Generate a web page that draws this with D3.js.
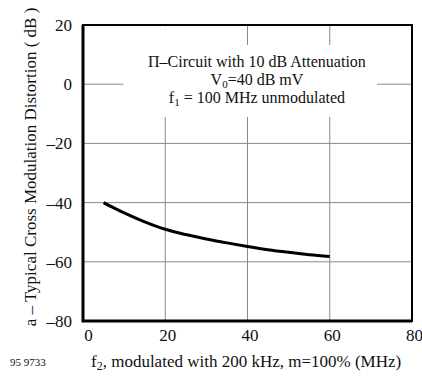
<!DOCTYPE html>
<html>
<head>
<meta charset="utf-8">
<script src="https://cdn.jsdelivr.net/npm/d3@7"></script>
<style>
  body { margin: 0; background: #fff; }
  text { font-family: "Liberation Serif", "DejaVu Serif", serif; fill: #111; }
</style>
</head>
<body>
<div id="chart"></div>
<script>
// data
var freqMHz = [5, 7.5, 10, 15, 20, 25, 30, 35, 40, 45, 50, 55, 60];
var distortionDb = [-40, -41.8, -43.5, -46.5, -49, -50.8, -52.3, -53.6, -54.8, -55.9, -56.8, -57.6, -58.2];
var xTicks = [0, 20, 40, 60, 80];
var yTicks = [20, 0, -20, -40, -60, -80];
var noteLines = ["Π–Circuit with 10 dB Attenuation", "V", "0", "=40 dB mV", "f", "1", " = 100 MHz unmodulated"];

var width = 422, height = 380,
  margin = {top: 25, right: 10, bottom: 59, left: 83},
  innerWidth = width - margin.left - margin.right,
  innerHeight = height - margin.top - margin.bottom;

var svg = d3.select("#chart").append("svg")
  .attr("width", width)
  .attr("height", height);

var g = svg.append("g")
  .attr("transform", "translate(" + margin.left + "," + margin.top + ")");

var x = d3.scaleLinear().domain([0, 80]).range([0, innerWidth]);
var y = d3.scaleLinear().domain([-80, 20]).range([innerHeight, 0]);

// grid
g.selectAll(".hgrid").data(yTicks.slice(1, -1)).enter().append("line")
  .attr("x1", 0).attr("x2", innerWidth)
  .attr("y1", function(d) { return y(d); })
  .attr("y2", function(d) { return y(d); })
  .attr("stroke", "#8a8a8a").attr("stroke-width", 1);

g.selectAll(".vgrid").data(xTicks.slice(1, -1)).enter().append("line")
  .attr("x1", function(d) { return x(d); })
  .attr("x2", function(d) { return x(d); })
  .attr("y1", 0).attr("y2", innerHeight)
  .attr("stroke", "#8a8a8a").attr("stroke-width", 1);

// blank area behind the note
g.append("rect")
  .attr("x", x(9.8)).attr("y", 20)
  .attr("width", x(71.5) - x(9.8)).attr("height", 72)
  .attr("fill", "#fff");
g.append("rect")
  .attr("x", x(17)).attr("y", 1.5)
  .attr("width", x(23) - x(17)).attr("height", 25)
  .attr("fill", "#fff");

var cx = x(42.3);
var note = g.append("g").attr("font-size", 16);
note.append("text")
  .attr("x", cx).attr("y", 42)
  .attr("text-anchor", "middle")
  .text(noteLines[0]);
var l2 = note.append("text").attr("x", cx).attr("y", 60).attr("text-anchor", "middle");
l2.append("tspan").text(noteLines[1]);
l2.append("tspan").attr("font-size", 11).attr("dy", 3).text(noteLines[2]);
l2.append("tspan").attr("dy", -3).text(noteLines[3]);
var l3 = note.append("text").attr("x", cx).attr("y", 78).attr("text-anchor", "middle");
l3.append("tspan").text(noteLines[4]);
l3.append("tspan").attr("font-size", 11).attr("dy", 3).text(noteLines[5]);
l3.append("tspan").attr("dy", -3).text(noteLines[6]);

// curve
var line = d3.line()
  .x(function(d, i) { return x(freqMHz[i]); })
  .y(function(d) { return y(d); })
  .curve(d3.curveMonotoneX);

g.append("path")
  .datum(distortionDb)
  .attr("d", line)
  .attr("fill", "none")
  .attr("stroke", "#000")
  .attr("stroke-width", 3);

// frame
g.append("rect")
  .attr("width", innerWidth).attr("height", innerHeight)
  .attr("fill", "none").attr("stroke", "#000").attr("stroke-width", 2);
g.append("path")
  .attr("d", "M0,0V" + innerHeight + "H" + innerWidth)
  .attr("fill", "none").attr("stroke", "#000").attr("stroke-width", 3);

// axes (labels only)
var yAxis = g.append("g")
  .call(d3.axisLeft(y).tickValues(yTicks).tickSize(0).tickPadding(11)
    .tickFormat(function(d) { return d < 0 ? "–" + Math.abs(d) : d; }));
yAxis.select(".domain").remove();
yAxis.selectAll("text").attr("font-size", 17).attr("fill", "#111");

var xAxis = g.append("g")
  .attr("transform", "translate(0," + innerHeight + ")")
  .call(d3.axisBottom(x).tickValues(xTicks).tickSize(0).tickPadding(8));
xAxis.select(".domain").remove();
xAxis.selectAll("text").attr("font-size", 17).attr("fill", "#111")
  .attr("dx", function(d) { return d === 0 ? 5 : 2; });

// axis titles
svg.append("text")
  .attr("transform", "translate(36," + (margin.top + 142) + ") rotate(-90)")
  .attr("text-anchor", "middle")
  .attr("font-size", 17)
  .text("a – Typical Cross Modulation Distortion ( dB )");

var xt = svg.append("text")
  .attr("x", 91)
  .attr("y", 367)
  .attr("font-size", 17);
xt.append("tspan").text("f");
xt.append("tspan").attr("font-size", 12).attr("dy", 3).text("2");
xt.append("tspan").attr("dy", -3).text(", modulated with 200 kHz, m=100% (MHz)");

svg.append("text")
  .attr("x", 10).attr("y", 366)
  .attr("font-size", 11)
  .text("95 9733");
</script>
</body>
</html>
